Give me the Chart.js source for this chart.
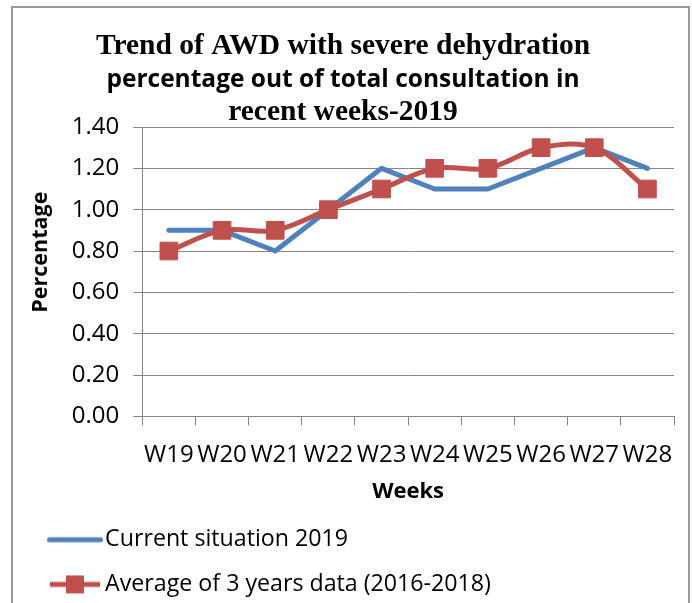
<!DOCTYPE html>
<html>
<head>
<meta charset="utf-8">
<script src="https://cdn.jsdelivr.net/npm/chart.js@4.4.1/dist/chart.umd.min.js"></script>
<style>
  html, body { margin: 0; padding: 0; background: #fff; }
  #wrap { width: 692px; height: 603px; position: relative; }
</style>
</head>
<body>
<div id="wrap"><canvas id="awdChart"></canvas></div>
<script>
// ---- data ----
const weeks = ["W19", "W20", "W21", "W22", "W23", "W24", "W25", "W26", "W27", "W28"];
const current2019 = [0.9, 0.9, 0.8, 1.0, 1.2, 1.1, 1.1, 1.2, 1.3, 1.2];
const avg2016to2018 = [0.8, 0.9, 0.9, 1.0, 1.1, 1.2, 1.2, 1.3, 1.3, 1.1];
const yTicks = [0, 0.2, 0.4, 0.6, 0.8, 1.0, 1.2, 1.4];
const seriesNames = ["Current situation 2019", "Average of 3 years data (2016-2018)"];
const titleLines = ["Trend of AWD with severe dehydration", "percentage out of total consultation in", "recent weeks-2019"];

const BLUE = "#4F81BD";
const RED = "#C0504D";
const GRID = "#868686";
const SANS = "'Open Sans', 'Liberation Sans', sans-serif";
const SERIF = "'Liberation Serif', 'DejaVu Serif', serif";

Chart.defaults.font.family = SANS;
Chart.defaults.color = "#000";

// small canvases used as legend symbols (line / line + square)
function makeIcon(color, withSquare) {
    const c = document.createElement("canvas");
    c.width = 71;
    c.height = 20;
    const g = c.getContext("2d");
    g.strokeStyle = color;
    g.lineWidth = 5;
    g.lineCap = withSquare ? "butt" : "round";
    g.beginPath();
    if (withSquare) {
        g.moveTo(18, 10);
        g.lineTo(68, 10);
    } else {
        g.moveTo(17.5, 10);
        g.lineTo(68.5, 10);
    }
    g.stroke();
    if (withSquare) {
        g.fillStyle = color;
        g.fillRect(34, 1, 18, 18);
    }
    return c;
}
const legendIcons = [makeIcon(BLUE, false), makeIcon(RED, true)];

// title with mixed fonts, like the original
const titleFonts = ["bold 29.5px " + SERIF, "bold 24.5px " + SANS, "bold 29.5px " + SERIF];
const titleY = [46, 80, 112];

const frameAndTitle = {
    id: "frameAndTitle",
    afterDraw(chart) {
        const ctx = chart.ctx;
        ctx.save();
        ctx.strokeStyle = "#999";
        ctx.lineWidth = 2;
        ctx.strokeRect(12, 7, 677, 700);
        ctx.fillStyle = "#000";
        ctx.textAlign = "center";
        ctx.textBaseline = "middle";
        titleLines.forEach((t, i) => {
            ctx.font = titleFonts[i];
            ctx.fillText(t, 343, titleY[i]);
        });
        ctx.restore();
    },
};

new Chart(document.getElementById("awdChart"), {
    type: "line",
    data: {
        labels: weeks,
        datasets: [
            {
                label: seriesNames[0],
                data: current2019,
                borderColor: BLUE,
                backgroundColor: BLUE,
                borderWidth: 5,
                borderCapStyle: "round",
                borderJoinStyle: "round",
                pointRadius: 0,
                tension: 0,
                order: 1,
            },
            {
                label: seriesNames[1],
                data: avg2016to2018,
                borderColor: RED,
                backgroundColor: RED,
                borderWidth: 5,
                pointStyle: "rect",
                pointRadius: 12.5,
                pointBorderWidth: 1,
                pointBackgroundColor: RED,
                pointBorderColor: RED,
                tension: 0.35,
                order: 0,
            },
        ],
    },
    options: {
        responsive: true,
        maintainAspectRatio: false,
        animation: false,
        layout: { padding: { top: 127, left: 20, right: 18, bottom: -3 } },
        plugins: {
            title: { display: false },
            tooltip: { enabled: false },
            legend: {
                display: true,
                position: "bottom",
                align: "start",
                labels: {
                    color: "#000",
                    font: { size: 23.2 },
                    padding: 21.5,
                    usePointStyle: true,
                    pointStyleWidth: 52,
                    boxHeight: 22,
                    generateLabels(chart) {
                        const items = Chart.defaults.plugins.legend.labels.generateLabels(chart);
                        items.sort((a, b) => a.datasetIndex - b.datasetIndex);
                        items.forEach((it) => { it.pointStyle = legendIcons[it.datasetIndex]; });
                        return items;
                    },
                },
            },
        },
        scales: {
            x: {
                offset: true,
                grid: { display: true, drawOnChartArea: false, color: GRID, tickLength: 9, offset: true },
                border: { display: true, color: GRID },
                ticks: { color: "#000", font: { size: 24 }, padding: 15, maxRotation: 0, autoSkip: false },
                title: { display: true, text: "Weeks", color: "#000", font: { size: 22, weight: "bold" }, padding: { top: -6, bottom: 2 } },
            },
            y: {
                min: 0,
                max: 1.4,
                afterBuildTicks: (axis) => { axis.ticks = yTicks.map((v) => ({ value: v })); },
                grid: { color: GRID, tickLength: 9 },
                border: { display: true, color: GRID },
                ticks: { color: "#000", font: { size: 24 }, padding: 14, callback: (v) => Number(v).toFixed(2) },
                // leading spaces push the label up a bit, as in the original
                title: { display: true, text: "       Percentage", color: "#000", font: { size: 21.5, weight: "bold" }, padding: { top: 8, bottom: 4 } },
            },
        },
    },
    plugins: [frameAndTitle],
});
</script>
</body>
</html>
